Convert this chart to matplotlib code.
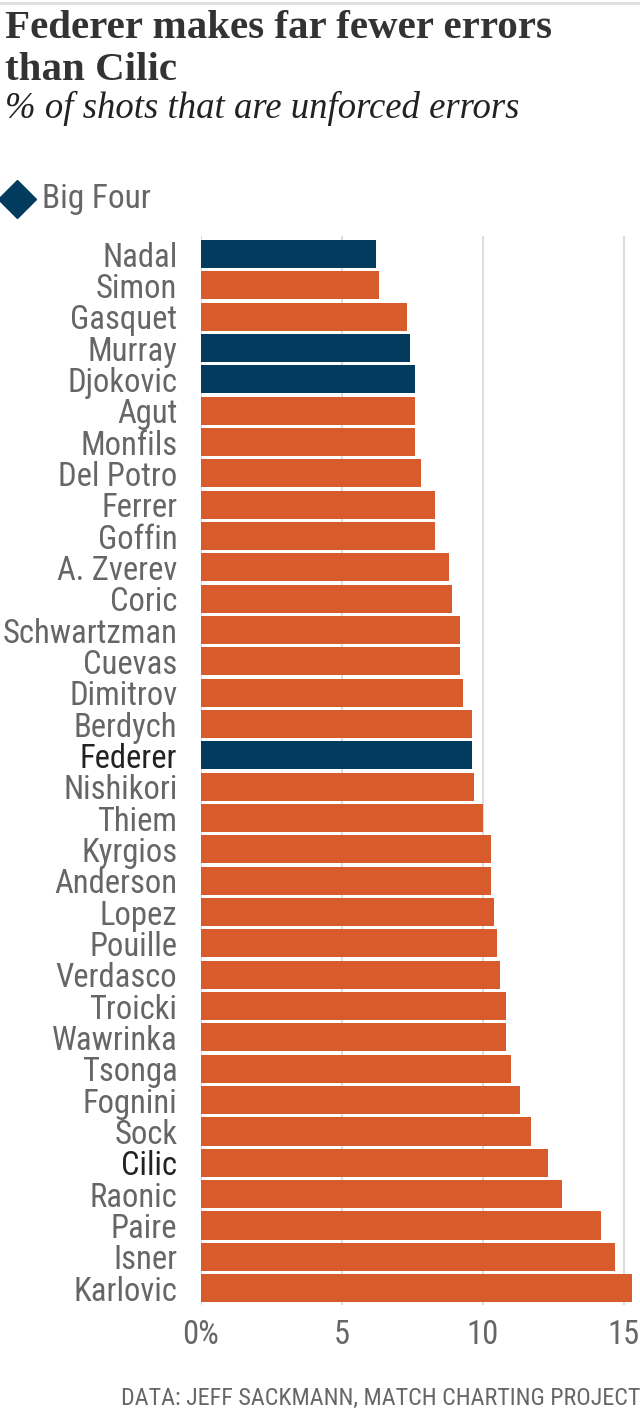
import matplotlib
matplotlib.use('Agg')
import matplotlib.pyplot as plt
from matplotlib.lines import Line2D

# data: % of shots that are unforced errors
players = ['Nadal', 'Simon', 'Gasquet', 'Murray', 'Djokovic', 'Agut', 'Monfils',
           'Del Potro', 'Ferrer', 'Goffin', 'A. Zverev', 'Coric', 'Schwartzman',
           'Cuevas', 'Dimitrov', 'Berdych', 'Federer', 'Nishikori', 'Thiem',
           'Kyrgios', 'Anderson', 'Lopez', 'Pouille', 'Verdasco', 'Troicki',
           'Wawrinka', 'Tsonga', 'Fognini', 'Sock', 'Cilic', 'Raonic', 'Paire',
           'Isner', 'Karlovic']
errors = [6.2, 6.3, 7.3, 7.4, 7.6, 7.6, 7.6, 7.8, 8.3, 8.3, 8.8, 8.9, 9.2, 9.2,
          9.3, 9.6, 9.6, 9.7, 10.0, 10.3, 10.3, 10.4, 10.5, 10.6, 10.8, 10.8,
          11.0, 11.3, 11.7, 12.3, 12.8, 14.2, 14.7, 15.3]
big_four = ['Nadal', 'Murray', 'Djokovic', 'Federer']
dark_labels = ['Federer', 'Cilic']
xticks = [0, 5, 10, 15]
xticklabels = ['0%', '5', '10', '15']

ORANGE = '#D85B2C'
NAVY = '#033B5E'
GRAY = '#666666'
COND = ['Liberation Sans Narrow', 'Roboto Condensed', 'Open Sans Condensed', 'DejaVu Sans']
SERIF = ['Liberation Serif', 'DejaVu Serif']

fig = plt.figure(figsize=(6.4, 14.09), dpi=100)
ax = fig.add_axes([201 / 640, 1 - 1305 / 1409, 439 / 640, (1305 - 236) / 1409])

colors = [NAVY if p in big_four else ORANGE for p in players]
y = list(range(len(players)))
ax.barh(y, errors, height=0.9, color=colors, zorder=2)
ax.set_xlim(0, 15.57)
ax.set_ylim(33.54, -0.575)

for t in xticks:
    ax.axvline(t, color='#dddddd', lw=1.5, zorder=1)

ax.set_yticks(y)
ax.set_yticklabels(players, family=COND, stretch='condensed', fontsize=23.5)
for lab in ax.get_yticklabels():
    lab.set_color('#222222' if lab.get_text() in dark_labels else GRAY)
ax.set_xticks(xticks)
ax.set_xticklabels(xticklabels, family=COND, stretch='condensed', fontsize=23.5, color=GRAY)
ax.tick_params(axis='y', length=0, pad=17)
ax.tick_params(axis='x', length=0, pad=10)
for s in ax.spines.values():
    s.set_visible(False)

# header
fig.add_artist(Line2D([0, 1], [1 - 3 / 1409] * 2, color='#dddddd', lw=2))
fig.text(5 / 640, 1 - 38 / 1409, 'Federer makes far fewer errors', family=SERIF,
         weight='bold', fontsize=29.5, color='#333333', va='baseline')
fig.text(5 / 640, 1 - 80 / 1409, 'than Cilic', family=SERIF,
         weight='bold', fontsize=29.5, color='#333333', va='baseline')
fig.text(5 / 640, 1 - 118 / 1409, '% of shots that are unforced errors', family=SERIF,
         style='italic', fontsize=26.5, color='#222222', va='baseline')

# legend
fig.add_artist(Line2D([17 / 640], [1 - 199 / 1409], marker='D', markersize=19,
                      color=NAVY, linestyle='none'))
fig.text(42 / 640, 1 - 199 / 1409, 'Big Four', family=COND, stretch='condensed',
         fontsize=24, color=GRAY, va='center')

# footer
fig.text(1.0, 1 - 1398 / 1409, 'DATA: JEFF SACKMANN, MATCH CHARTING PROJECT',
         family=COND, stretch='condensed', fontsize=17.3, color=GRAY, ha='right', va='center')

fig.savefig('out.png', dpi=100)
